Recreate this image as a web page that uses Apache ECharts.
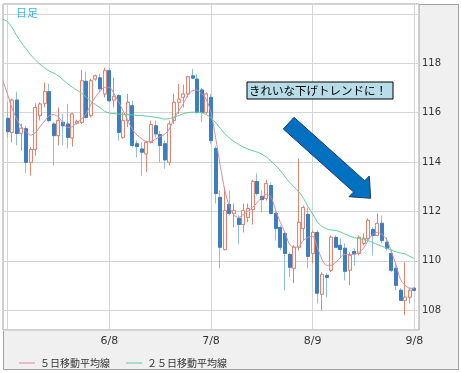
<!DOCTYPE html>
<html><head><meta charset="utf-8">
<script src="https://cdn.jsdelivr.net/npm/echarts@6/dist/echarts.min.js"></script>
<style>
html,body{margin:0;padding:0;background:#fff;}
#frame{position:absolute;left:3px;top:4px;width:454px;height:364px;background:#f0f0f0;border:1px solid #a0a0a0;}
#main{position:absolute;left:0;top:0;width:461px;height:373px;}
</style></head><body>
<div id="frame"></div><div id="main"></div>
<script>
const dates = ['5/6','5/7','5/10','5/11','5/12','5/13','5/14','5/17','5/18','5/19',
'5/20','5/21','5/24','5/25','5/26','5/27','5/28','5/31','6/1','6/2',
'6/3','6/4','6/7','6/8','6/9','6/10','6/11','6/14','6/15','6/16',
'6/17','6/18','6/21','6/22','6/23','6/24','6/25','6/28','6/29','6/30',
'7/1','7/2','7/5','7/6','7/7','7/8','7/9','7/12','7/13','7/14',
'7/15','7/16','7/19','7/20','7/21','7/22','7/23','7/26','7/27','7/28',
'7/29','7/30','8/2','8/3','8/4','8/5','8/6','8/9','8/10','8/11',
'8/12','8/13','8/16','8/17','8/18','8/19','8/20','8/23','8/24','8/25',
'8/26','8/27','8/30','8/31','9/1','9/2','9/3','9/6','9/7','9/8',
'9/9'];
const labelDates = ['6/8','7/8','8/9','9/8'];
const gridDates = ['5/7','6/8','7/8','8/9','9/8'];
const yLabels = [108,110,112,114,116,118];

const opens = [null,
115.77,115.20,116.51,115.16,115.35,113.99,114.51,115.88,116.38,116.85,
115.54,115.07,115.61,115.54,114.98,115.57,115.61,117.27,115.88,117.36,
117.41,116.76,117.70,116.51,116.69,115.00,115.68,116.28,114.74,114.53,
114.33,114.80,115.47,115.11,114.74,113.99,115.68,116.42,116.62,116.76,
117.49,117.36,116.92,116.01,116.62,114.55,112.57,110.46,112.28,111.92,
111.72,111.47,111.76,112.08,113.21,112.61,112.53,113.05,111.92,111.35,
111.11,110.26,109.70,110.55,111.31,111.88,110.30,111.15,108.65,109.41,
109.62,110.95,110.63,110.51,109.62,110.38,110.30,110.71,110.91,111.27,
111.03,111.52,110.75,110.30,109.70,108.81,108.40,108.53,108.89,
null];
const closes = [null,
115.23,116.51,115.16,115.37,113.99,114.51,116.21,116.35,116.85,115.68,
115.07,115.68,115.47,115.00,115.95,115.65,117.29,115.81,117.29,117.49,
116.97,117.70,116.48,116.65,115.20,115.68,116.42,114.67,114.63,114.40,
114.80,115.52,115.14,114.67,114.09,115.54,116.42,116.55,116.76,117.45,
117.40,116.01,116.01,116.76,114.87,112.73,110.55,112.04,111.92,112.04,
111.47,112.04,112.12,113.21,112.73,112.48,113.13,111.92,111.31,110.55,
110.30,109.74,110.55,111.56,112.16,110.18,111.15,108.69,109.45,109.33,
110.95,110.55,110.46,109.58,110.22,110.30,110.95,110.91,111.64,111.03,
111.52,110.83,110.51,109.62,109.01,108.40,108.53,108.81,108.81,
null];
const lows = [null,
114.99,114.80,114.67,114.46,113.54,113.45,114.26,115.68,116.21,115.61,
113.86,114.67,114.67,114.55,114.63,115.52,115.54,115.76,115.80,117.29,
116.81,116.61,116.42,116.21,114.87,114.94,115.41,114.60,114.19,113.45,
113.59,114.75,114.99,113.99,113.73,113.86,115.54,115.95,116.21,116.62,
117.36,115.95,115.61,115.95,114.74,112.32,109.70,110.42,111.84,111.35,
110.67,111.15,111.56,111.47,112.65,111.96,112.44,111.88,110.83,110.42,
108.81,109.33,109.09,110.42,110.83,109.70,109.90,108.28,108.00,108.53,
109.54,110.51,110.10,109.21,109.01,109.82,110.22,110.63,110.83,110.22,
110.99,110.71,110.42,109.54,108.81,108.40,107.80,108.28,108.77,
null];
const highs = [null,
116.44,116.57,116.85,115.56,115.47,114.60,116.38,116.42,117.22,117.17,
115.61,116.21,115.96,116.36,115.97,115.72,117.73,117.66,117.37,117.54,
117.58,117.82,117.83,117.43,116.76,116.01,116.76,116.48,114.87,114.80,
114.87,115.68,115.68,115.27,114.87,115.68,116.76,117.16,117.13,117.49,
117.77,117.56,117.00,116.82,116.76,114.63,112.85,112.97,112.85,112.32,
111.84,112.32,112.32,113.29,113.54,112.85,113.29,113.17,112.04,111.43,
111.19,110.34,110.63,114.14,112.24,112.16,111.23,111.23,109.54,109.49,
111.03,111.03,110.91,110.71,110.34,110.51,111.03,111.11,111.72,111.35,
111.92,111.84,110.95,110.42,109.94,108.89,109.94,108.93,108.93,
null];
const ma5 = [
117.29,116.73,116.16,115.72,115.43,115.23,115.09,115.19,115.43,115.66,
115.88,115.92,115.82,115.58,115.39,115.43,115.60,115.74,115.96,116.34,
116.63,116.87,117.03,117.03,116.77,116.44,116.08,115.68,115.33,115.09,
114.95,114.83,114.83,114.93,115.03,115.13,115.35,115.76,116.06,116.36,
116.71,116.89,116.91,116.77,116.53,116.00,114.99,113.86,112.85,112.20,
111.84,111.76,111.88,112.00,112.16,112.36,112.57,112.69,112.57,112.04,
111.56,111.15,110.67,110.55,110.59,110.83,110.95,110.99,110.55,110.06,
109.82,109.82,109.94,110.14,110.26,110.26,110.26,110.34,110.51,110.83,
111.07,111.15,111.07,110.87,110.38,109.86,109.25,109.01,108.89,108.89,
null];
const ma25 = [
119.78,119.68,119.43,119.11,118.83,118.59,118.34,118.14,117.96,117.82,
117.68,117.60,117.49,117.33,117.17,117.03,116.91,116.79,116.63,116.46,
116.32,116.20,116.06,115.98,115.96,115.94,115.93,115.92,115.91,115.89,
115.88,115.86,115.84,115.81,115.78,115.74,115.76,115.82,115.88,115.96,
116.00,116.02,116.02,116.00,115.92,115.78,115.60,115.37,115.15,114.97,
114.83,114.71,114.61,114.53,114.46,114.40,114.32,114.20,114.04,113.86,
113.66,113.41,113.18,112.99,112.79,112.53,112.20,111.90,111.58,111.39,
111.30,111.25,111.23,111.17,111.09,111.00,110.94,110.90,110.86,110.82,
110.74,110.66,110.59,110.51,110.44,110.37,110.32,110.28,110.18,110.09,
null];

const fullData = dates.map((d,i)=>[opens[i],closes[i],lows[i],highs[i]]);
const bodyData = dates.map((d,i)=> opens[i]==null ? [null,null,null,null] :
  [opens[i],closes[i],Math.min(opens[i],closes[i]),Math.max(opens[i],closes[i])]);

const UP_BORDER = '#e3866f', UP_FILL = '#fff6f3';
const DN_BODY = '#3b7fc0', DN_WICK = '#92bde2';

const chart = echarts.init(document.getElementById('main'), null, {renderer:'canvas'});
chart.setOption({
  animation:false,
  backgroundColor:'transparent',
  grid:{left:3, top:4, width:416, height:326, show:true, backgroundColor:'#ffffff', borderColor:'#a0a0a0', borderWidth:1},
  legend:{
    left:14, top:353, itemWidth:16, itemHeight:1, itemGap:16, icon:'rect',
    data:['５日移動平均線','２５日移動平均線'],
    textStyle:{fontFamily:'Noto Sans CJK JP', fontSize:10, color:'#333'}
  },
  xAxis:{
    type:'category', data:dates, boundaryGap:false,
    axisLine:{show:false}, axisTick:{show:false},
    axisLabel:{interval:(idx,v)=>labelDates.includes(v), margin:6, color:'#333', fontFamily:'DejaVu Sans', fontSize:11},
    splitLine:{show:true, interval:(idx,v)=>gridDates.includes(v), lineStyle:{color:'#d4d4d4', width:1}}
  },
  yAxis:{
    type:'value', position:'right', min:107.2, max:120.4, splitNumber:6, scale:true,
    axisLine:{show:false}, axisTick:{show:false},
    axisLabel:{margin:3, color:'#333', fontFamily:'DejaVu Sans', fontSize:10,
      showMinLabel:false, showMaxLabel:false,
      formatter:v=> yLabels.includes(Math.round(v*100)/100) ? String(v) : ''},
    splitLine:{show:true, lineStyle:{color:'#d4d4d4', width:1}}
  },
  series:[
    {type:'candlestick', name:'wick', data:fullData, barWidth:3.5, z:2, silent:true,
     itemStyle:{color:UP_FILL, color0:DN_WICK, borderColor:UP_BORDER, borderColor0:DN_WICK, borderWidth:1}},
    {type:'candlestick', name:'body', data:bodyData, barWidth:3.5, z:3, silent:true,
     itemStyle:{color:UP_FILL, color0:DN_BODY, borderColor:UP_BORDER, borderColor0:DN_BODY, borderWidth:1}},
    {type:'line', name:'５日移動平均線', data:ma5, showSymbol:false, smooth:0.3, z:4,
     lineStyle:{color:'#d68aab', width:1}, itemStyle:{color:'#d68aab'}},
    {type:'line', name:'２５日移動平均線', data:ma25, showSymbol:false, smooth:0.3, z:4,
     lineStyle:{color:'#5ccf95', width:1}, itemStyle:{color:'#5ccf95'}}
  ],
  graphic:[
    {type:'text', left:16, top:7, z:10, style:{text:'日足', fill:'#3db6ea', font:'11px "Noto Sans CJK JP"'}},
    {type:'rect', z:10, shape:{x:247, y:82, width:146, height:17},
     style:{fill:'#b7dee8', stroke:'#000', lineWidth:1}},
    {type:'text', z:11, x:249, y:90.5, style:{text:'きれいな下げトレンドに！', fill:'#000', font:'11.5px "Noto Sans CJK JP"', textVerticalAlign:'middle'}},
    {type:'polygon', z:10, shape:{points:[[294,117.3],[364.7,180.7],[369.3,176],[370.7,198.3],[349,196.7],[353.6,192],[283.3,129]]},
     style:{fill:'#0070c0', stroke:'#1c3f73', lineWidth:1}}
  ]
});
</script></body></html>
